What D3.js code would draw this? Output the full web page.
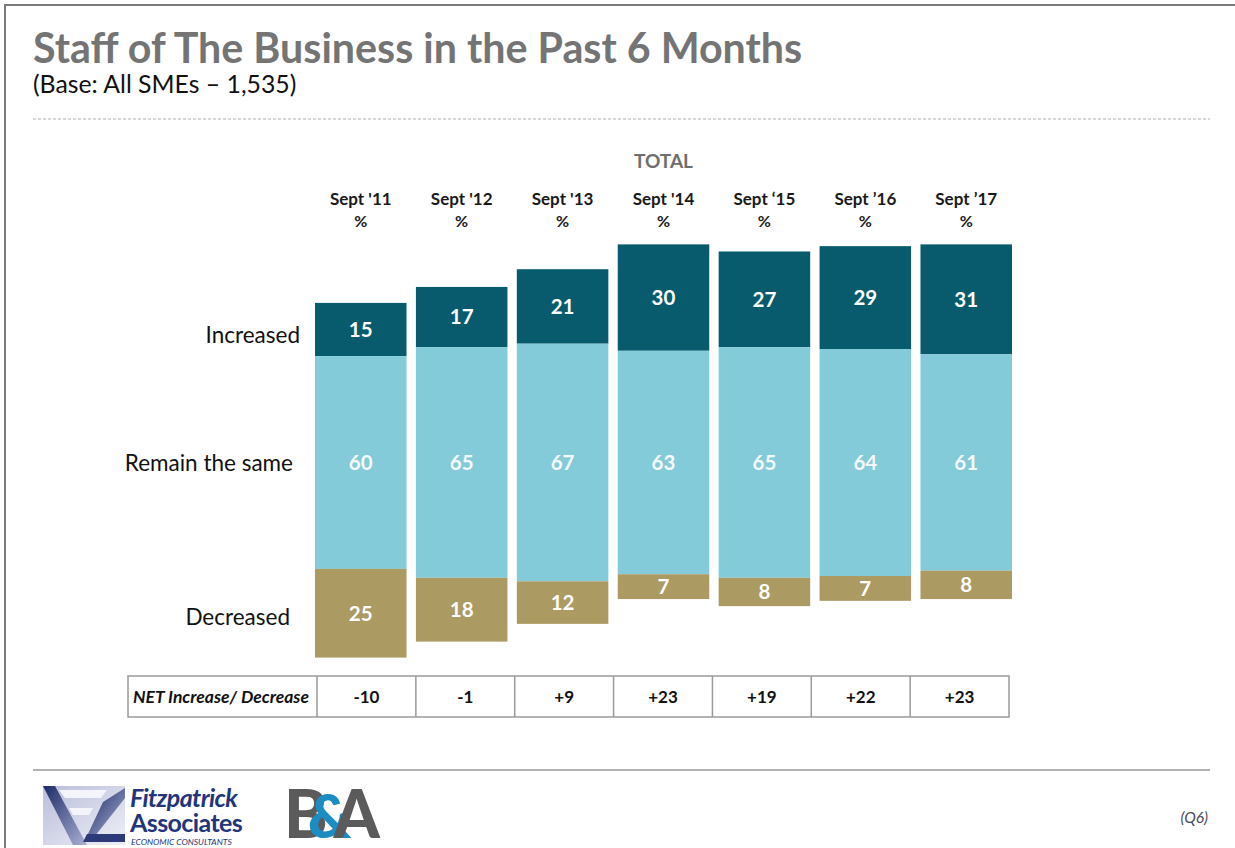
<!DOCTYPE html>
<html>
<head>
<meta charset="utf-8">
<script src="https://cdn.jsdelivr.net/npm/d3@7"></script>
<style>
  html, body { margin: 0; padding: 0; background: #fff; }
  svg { display: block; }
  text { font-family: Lato, "Open Sans", "DejaVu Sans", sans-serif; }
</style>
</head>
<body>
<svg id="chart" width="1235" height="848"></svg>
<script>
// Survey waves and the three answer shares (%)
const waves = ["Sept '11", "Sept '12", "Sept '13", "Sept '14", "Sept \u201815", "Sept \u201916", "Sept \u201917"];
const increased = [15, 17, 21, 30, 27, 29, 31];
const remainSame = [60, 65, 67, 63, 65, 64, 61];
const decreased = [25, 18, 12, 7, 8, 7, 8];
const netChange = [-10, -1, 9, 23, 19, 22, 23];
const rowLabels = ["Increased", "Remain the same", "Decreased"];

const colors = { inc: "#075b6c", same: "#84cbd9", dec: "#ab9a62" };

const svg = d3.select("#chart");

// page frame
svg.append("path")
  .attr("d", "M5,848V5H1235")
  .attr("fill", "none").attr("stroke", "#7a7a7a").attr("stroke-width", 2);

// heading
svg.append("text").attr("x", 33).attr("y", 63)
  .attr("font-size", 41.2).attr("font-weight", 700).attr("fill", "#747474")
  .text("Staff of The Business in the Past 6 Months");
svg.append("text").attr("x", 33).attr("y", 93)
  .attr("font-size", 24.8).attr("fill", "#111")
  .text("(Base: All SMEs \u2013 1,535)");

svg.append("line").attr("x1", 33).attr("x2", 1210).attr("y1", 119).attr("y2", 119)
  .attr("stroke", "#b0b0b0").attr("stroke-width", 1).attr("stroke-dasharray", "3,2");

// scales
const x = d3.scaleBand().domain(waves).range([315, 1012]).paddingInner(0.093).paddingOuter(0);
// bars are centred on the middle of the "remain the same" segment
const y = d3.scaleLinear().domain([-60, 60]).range([675.3, 249.7]);

const rows = waves.map((w, i) => ({
  wave: w, inc: increased[i], same: remainSame[i], dec: decreased[i], net: netChange[i]
}));

svg.append("text").attr("x", x(waves[3]) + x.bandwidth() / 2).attr("y", 168)
  .attr("text-anchor", "middle").attr("font-size", 19).attr("font-weight", 700)
  .attr("fill", "#6e6e6e").text("TOTAL");

const head = svg.append("g").selectAll("g").data(rows).join("g")
  .attr("transform", d => `translate(${x(d.wave) + x.bandwidth() / 2},0)`);
head.append("text").attr("y", 205).attr("text-anchor", "middle")
  .attr("font-size", 17).attr("font-weight", 700).attr("fill", "#1a1a1a").text(d => d.wave);
head.append("text").attr("y", 227).attr("text-anchor", "middle")
  .attr("font-size", 16).attr("font-weight", 700).attr("fill", "#1a1a1a").text("%");

// segments
function segs(d) {
  const h = d.same / 2;
  return [
    { key: "inc", v: d.inc, top: h + d.inc, bottom: h },
    { key: "same", v: d.same, top: h, bottom: -h },
    { key: "dec", v: d.dec, top: -h, bottom: -h - d.dec }
  ];
}

const bars = svg.append("g").selectAll("g").data(rows).join("g")
  .attr("transform", d => `translate(${x(d.wave)},0)`);

bars.selectAll("rect").data(segs).join("rect")
  .attr("x", 0).attr("width", x.bandwidth())
  .attr("y", s => y(s.top)).attr("height", s => y(s.bottom) - y(s.top))
  .attr("fill", s => colors[s.key]);

bars.selectAll("text").data(segs).join("text")
  .attr("x", x.bandwidth() / 2)
  .attr("y", s => (y(s.top) + y(s.bottom)) / 2)
  .attr("dy", "0.36em").attr("text-anchor", "middle")
  .attr("font-size", 20.5).attr("font-weight", 700)
  .attr("fill", s => s.key === "same" ? "#f4fafb" : "#fff")
  .text(s => s.v);

// row labels, aligned to the first wave's segments
const firstSegs = segs(rows[0]);
svg.append("g").selectAll("text").data(rowLabels).join("text")
  .attr("x", (t, i) => [300, 293, 290][i])
  .attr("y", (t, i) => (y(firstSegs[i].top) + y(firstSegs[i].bottom)) / 2 + [5, 0, 4][i])
  .attr("dy", "0.36em").attr("text-anchor", "end")
  .attr("font-size", 22.5).attr("fill", "#111").text(t => t);

// NET table
const tx = d3.scaleBand().domain(waves).range([317, 1009]);
const tTop = 676, tBot = 717;
const table = svg.append("g");
table.append("rect").attr("x", 128).attr("y", tTop).attr("width", 1009 - 128).attr("height", tBot - tTop)
  .attr("fill", "#fff").attr("stroke", "#9a9a9a").attr("stroke-width", 1.5);
table.selectAll("line").data(waves).join("line")
  .attr("x1", d => tx(d)).attr("x2", d => tx(d)).attr("y1", tTop).attr("y2", tBot)
  .attr("stroke", "#9a9a9a").attr("stroke-width", 1.5);
table.append("text").attr("x", 133).attr("y", (tTop + tBot) / 2).attr("dy", "0.36em")
  .attr("font-size", 17.5).attr("font-weight", 700).attr("font-style", "italic").attr("fill", "#111")
  .text("NET Increase/ Decrease");
const fmt = v => (v > 0 ? "+" : "") + v;
table.selectAll("text.net").data(rows).join("text").attr("class", "net")
  .attr("x", d => tx(d.wave) + tx.bandwidth() / 2).attr("y", (tTop + tBot) / 2).attr("dy", "0.36em")
  .attr("text-anchor", "middle").attr("font-size", 17).attr("font-weight", 700).attr("fill", "#111")
  .text(d => fmt(d.net));

// footer
svg.append("line").attr("x1", 33).attr("x2", 1210).attr("y1", 770).attr("y2", 770)
  .attr("stroke", "#9a9a9a").attr("stroke-width", 1.5);
svg.append("text").attr("x", 1208).attr("y", 823).attr("text-anchor", "end")
  .attr("font-size", 15.5).attr("font-style", "italic").attr("fill", "#4a4a5a").text("(Q6)");

// Fitzpatrick Associates mark
const defs = svg.append("defs");
const g1 = defs.append("linearGradient").attr("id", "faBg").attr("x1", 0).attr("y1", 0).attr("x2", 1).attr("y2", 1);
g1.append("stop").attr("offset", 0).attr("stop-color", "#b9bdd9");
g1.append("stop").attr("offset", 1).attr("stop-color", "#eef0f7");
const g2 = defs.append("linearGradient").attr("id", "faInk").attr("x1", 0).attr("y1", 0).attr("x2", 1).attr("y2", 1);
g2.append("stop").attr("offset", 0).attr("stop-color", "#1c2a66");
g2.append("stop").attr("offset", 1).attr("stop-color", "#aab1d4");
const fa = svg.append("g").attr("transform", "translate(43,786)");
fa.append("rect").attr("width", 82).attr("height", 59).attr("fill", "url(#faBg)");
fa.append("path").attr("d", "M0,0 L12,0 L44,59 L30,59 Z").attr("fill", "url(#faInk)");
fa.append("path").attr("d", "M16,4 L64,4 L58,12 L22,12 Z").attr("fill", "#f4f5fa");
fa.append("path").attr("d", "M26,22 L50,22 L46,29 L30,29 Z").attr("fill", "#f4f5fa");
fa.append("path").attr("d", "M60,16 L82,2 L82,12 L52,50 L44,50 Z").attr("fill", "url(#faInk)");
fa.append("path").attr("d", "M44,48 L82,48 L82,56 L40,56 Z").attr("fill", "#2c3a78");
svg.append("text").attr("fill", "#23357a")
  .call(t => t.append("tspan").attr("x", 130).attr("y", 807).attr("font-size", 25).attr("font-weight", 700)
    .attr("font-style", "italic").attr("letter-spacing", -0.6).text("Fitzpatrick"))
  .call(t => t.append("tspan").attr("x", 130).attr("y", 832).attr("font-size", 25).attr("font-weight", 700)
    .attr("letter-spacing", -0.6).text("Associates"))
  .call(t => t.append("tspan").attr("x", 131).attr("y", 845).attr("font-size", 8.5).attr("font-style", "italic")
    .text("ECONOMIC CONSULTANTS"));

// B&A mark
svg.append("text").attr("x", 284).attr("y", 838).attr("font-size", 66).attr("font-weight", 900)
  .attr("font-family", "'DejaVu Sans', sans-serif").attr("letter-spacing", -2)
  .call(t => t.append("tspan").attr("fill", "#5b5b5b").text("B"))
  .call(t => t.append("tspan").attr("fill", "#1b8dc2").attr("dx", -18).attr("font-size", 60).text("&"))
  .call(t => t.append("tspan").attr("fill", "#5b5b5b").attr("dx", -16).text("A"));
</script>
</body>
</html>
